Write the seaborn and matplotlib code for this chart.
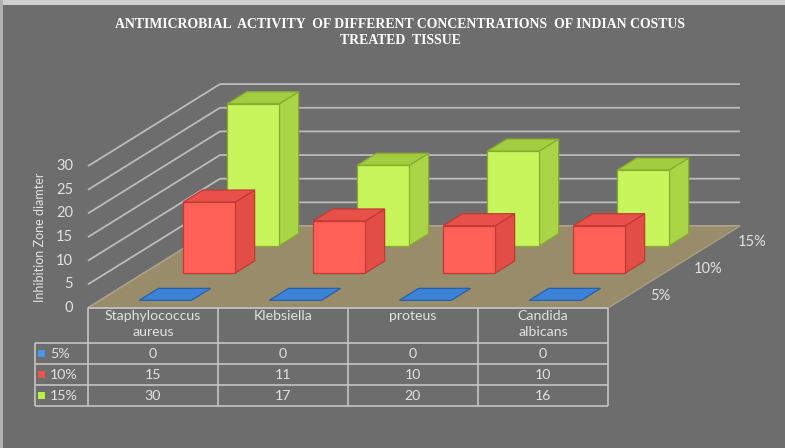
import numpy as np
import matplotlib
matplotlib.use("Agg")
import matplotlib.pyplot as plt
from matplotlib.patches import Polygon, Rectangle
import seaborn as sns

# ---------------- data ----------------
categories = ["Staphylococcus\naureus", "Klebsiella", "proteus", "Candida\nalbicans"]
series = ["5%", "10%", "15%"]
val_5 = [0, 0, 0, 0]
val_10 = [15, 11, 10, 10]
val_15 = [30, 17, 20, 16]
yticks = [0, 5, 10, 15, 20, 25, 30]
title = "ANTIMICROBIAL  ACTIVITY  OF DIFFERENT CONCENTRATIONS  OF INDIAN COSTUS\nTREATED  TISSUE"
ylabel = "Inhibition Zone diamter"

values = [val_5, val_10, val_15]

sns.set_theme(style="dark")
plt.rcParams['font.family'] = ['Lato', 'DejaVu Sans']

BG = "#6d6d6d"
TXT = "#e2e2e2"
GRID = "#bcbcbc"
face_cols = [("#3b82d9", "#3b82d9", "#3b82d9"),      # front, side, top
             ("#ff6158", "#e24d46", "#e8504a"),
             ("#c8f45c", "#a9d546", "#a3cc40")]
edge_cols = ["#2a5fa8", "#c23a33", "#86ad2c"]
swatch = ["#4a95e8", "#f0524c", "#b9ef4b"]
palette = sns.color_palette(swatch)

# layout (pixel scale of the oblique projection)
W, H = 785, 448
PXC, PXV = 130.0, 4.73          # px per category, px per value unit
X0, Y0 = 88.0, 308.0            # px of front-left floor corner
DXp, DYp = 132.0, 82.0          # px of depth vector
DXc, DYv = DXp / PXC, DYp / PXV
n_cat = len(categories)

def P(c, d, v):
    return (c + d * DXc, v + d * DYv)

def cx(px):
    return (px - X0) / PXC

def vy(py):
    return (Y0 - py) / PXV

fig = plt.figure(figsize=(W / 100, H / 100), dpi=100, facecolor=BG)
ax = fig.add_axes([0, 0, 1, 1])
ax.set_facecolor(BG)
ax.set_xlim(cx(0), cx(W))
ax.set_ylim(vy(H), vy(0))
ax.axis("off")

# frame strips (light edge at top/left)
fig.patches.append(Rectangle((0, 1 - 5 / H), 1, 5 / H, transform=fig.transFigure,
                             facecolor="#cfcfcf", edgecolor="none", zorder=0))
fig.patches.append(Rectangle((0, 0), 3 / W, 1, transform=fig.transFigure,
                             facecolor="#b0b0b0", edgecolor="none", zorder=0))

# gridlines: side wall + back wall
for v in yticks:
    pts = [P(0, 0, v), P(0, 1, v), P(n_cat, 1, v)]
    ax.plot([p[0] for p in pts], [p[1] for p in pts], color=GRID, lw=1.3, zorder=1,
            solid_capstyle="butt")
    ax.text(cx(73), v, str(v), ha="right", va="center", color=TXT, fontsize=10.5)

# floor
floor = [P(0, 0, 0), P(n_cat, 0, 0), P(n_cat, 1, 0), P(0, 1, 0)]
ax.add_patch(Polygon(floor, closed=True, facecolor="#998c6a", edgecolor="#a89f82",
                     lw=1.0, zorder=2))

# bars
bw = 0.4
hd = 0.073
z = 3
for s in reversed(range(len(series))):
    dc = (s + 0.5) / len(series)
    d0, d1 = dc - hd, dc + hd
    fc, sc, tc = face_cols[s]
    ec = edge_cols[s]
    for i, v in enumerate(values[s]):
        c0, c1 = i + 0.5 - bw / 2, i + 0.5 + bw / 2
        if v > 0:
            front = [P(c0, d0, 0), P(c1, d0, 0), P(c1, d0, v), P(c0, d0, v)]
            side = [P(c1, d0, 0), P(c1, d1, 0), P(c1, d1, v), P(c1, d0, v)]
            top = [P(c0, d0, v), P(c1, d0, v), P(c1, d1, v), P(c0, d1, v)]
            ax.add_patch(Polygon(side, closed=True, facecolor=sc, edgecolor=ec, lw=0.9, zorder=z))
            ax.add_patch(Polygon(front, closed=True, facecolor=fc, edgecolor=ec, lw=0.9, zorder=z))
            ax.add_patch(Polygon(top, closed=True, facecolor=tc, edgecolor=ec, lw=0.9, zorder=z))
        else:
            top = [P(c0, d0, 0), P(c1, d0, 0), P(c1, d1, 0), P(c0, d1, 0)]
            ax.add_patch(Polygon(top, closed=True, facecolor=fc, edgecolor=ec, lw=0.9, zorder=z))
        z += 1
    # depth axis label
    bx, by = P(n_cat, dc, 0)
    ax.text(bx + 20 / PXC, by - 2 / PXV, series[s], ha="left", va="center",
            color=TXT, fontsize=10.5)

# y label
ax.text(cx(40), vy(237), ylabel, rotation=90, ha="center", va="center",
        color=TXT, fontsize=9)

# data table
tl = dict(color="#c4c4c4", lw=1.2, zorder=20, solid_capstyle="butt")
row_px = [308, 343, 364, 385, 406]
left_px = 35
rows_v = [vy(p) for p in row_px]
for k in range(n_cat + 1):
    ax.plot([k, k], [rows_v[0], rows_v[-1]], **tl)
ax.plot([cx(left_px), cx(left_px)], [rows_v[1], rows_v[-1]], **tl)
for j, rv in enumerate(rows_v):
    xl = 0 if j == 0 else cx(left_px)
    ax.plot([xl, n_cat], [rv, rv], **tl)
for k, cat in enumerate(categories):
    ax.text(k + 0.5, vy(310), cat, ha="center", va="top", color=TXT, fontsize=10.2,
            linespacing=1.4, zorder=21)
for s, name in enumerate(series):
    ymid = (rows_v[s + 1] + rows_v[s + 2]) / 2
    ax.add_patch(Rectangle((cx(38), ymid - 3.5 / PXV), 7 / PXC, 7 / PXV,
                           facecolor=palette[s], edgecolor="none", zorder=21))
    ax.text(cx(50), ymid, name, ha="left", va="center", color=TXT, fontsize=10.2, zorder=21)
    for k, v in enumerate(values[s]):
        ax.text(k + 0.5, ymid, str(v), ha="center", va="center", color=TXT,
                fontsize=10.2, zorder=21)

# title
fig.text(400 / W, 1 - 18 / H, title, ha="center", va="top", color="white",
         fontsize=9.9, fontweight="bold", family=["Liberation Serif"], linespacing=1.3)

fig.savefig("out.png", dpi=100, facecolor=BG)
